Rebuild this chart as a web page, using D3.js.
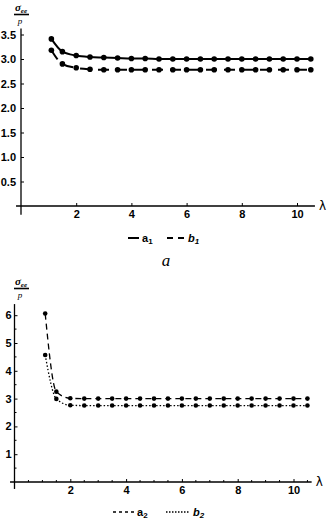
<!DOCTYPE html>
<html>
<head>
<meta charset="utf-8">
<script src="https://cdn.jsdelivr.net/npm/d3@7"></script>
<style>
  body { margin: 0; background: #fff; }
  svg { display: block; }
  .tick text { font-family: "Liberation Sans", Arial, sans-serif; font-size: 11px; font-weight: bold; fill: #000; }
  .tick line { stroke: #000; }
</style>
</head>
<body>
<svg id="chart" width="332" height="523"></svg>
<script>
// Dades llegides de la figura
var lambda = [1.1, 1.5, 2, 2.5, 3, 3.5, 4, 4.5, 5, 5.5, 6, 6.5, 7, 7.5, 8, 8.5, 9, 9.5, 10, 10.5];

var a1 = [3.41, 3.15, 3.07, 3.04, 3.03, 3.02, 3.01, 3.01, 3.00, 3.00, 3.00, 3.00, 3.00, 3.00, 3.00, 3.00, 3.00, 3.00, 3.00, 3.00];
var b1 = [3.18, 2.90, 2.82, 2.79, 2.78, 2.78, 2.78, 2.78, 2.78, 2.78, 2.78, 2.78, 2.78, 2.78, 2.78, 2.78, 2.78, 2.78, 2.78, 2.78];

var a2 = [6.06, 3.25, 3.01, 3.00, 3.00, 3.00, 3.00, 3.00, 3.00, 3.00, 3.00, 3.00, 3.00, 3.00, 3.00, 3.00, 3.00, 3.00, 3.00, 3.00];
var b2 = [4.57, 2.99, 2.76, 2.75, 2.75, 2.75, 2.75, 2.75, 2.75, 2.75, 2.75, 2.75, 2.75, 2.75, 2.75, 2.75, 2.75, 2.75, 2.75, 2.75];

var xTicks = [2, 4, 6, 8, 10];
var yTicksTop = [0.5, 1.0, 1.5, 2.0, 2.5, 3.0, 3.5];
var yTicksBottom = [1, 2, 3, 4, 5, 6];

var svg = d3.select("#chart");

/*
*   Dibuixa un panell amb eixos creuats a l'origen
*/
function panell(opts) {
    var x = d3.scaleLinear().domain([0, 10]).range(opts.xRange);
    var y = d3.scaleLinear().domain(opts.yDomain).range(opts.yRange);
    var g = svg.append("g");

    // eixos
    g.append("line")
        .attr("x1", x(opts.xExt[0])).attr("x2", x(opts.xExt[1]))
        .attr("y1", y(0)).attr("y2", y(0))
        .attr("stroke", "#000").attr("stroke-width", 1.3);
    g.append("line")
        .attr("x1", x(0)).attr("x2", x(0))
        .attr("y1", y(opts.yExt[0])).attr("y2", y(opts.yExt[1]))
        .attr("stroke", "#000").attr("stroke-width", 1.3);

    var xAxis = d3.axisBottom(x).tickValues(xTicks).tickSizeInner(-3).tickSizeOuter(0).tickPadding(4)
        .tickFormat(d3.format("d"));
    g.append("g").attr("transform", "translate(0," + y(0) + ")").call(xAxis)
        .call(function (s) { s.select(".domain").remove(); });

    var yAxis = d3.axisLeft(y).tickValues(opts.yTicks).tickSizeInner(-3).tickSizeOuter(0).tickPadding(opts.yPad)
        .tickFormat(opts.yFormat);
    g.append("g").attr("transform", "translate(" + x(0) + ",0)").call(yAxis)
        .call(function (s) { s.select(".domain").remove(); });

    // marques menors
    if (opts.minor) {
        g.selectAll(".mx").data(d3.range(0.5, 10.6, 0.5).filter(function (d) { return d % 2 != 0; }))
            .enter().append("line")
            .attr("x1", function (d) { return x(d); }).attr("x2", function (d) { return x(d); })
            .attr("y1", y(0)).attr("y2", y(0) - 2).attr("stroke", "#000");
        g.selectAll(".my").data([0.5, 1.5, 2.5, 3.5, 4.5, 5.5])
            .enter().append("line")
            .attr("x1", x(0)).attr("x2", x(0) + 2)
            .attr("y1", function (d) { return y(d); }).attr("y2", function (d) { return y(d); })
            .attr("stroke", "#000");
    }

    // etiqueta lambda
    g.append("text").attr("x", x(opts.xExt[1]) + 4).attr("y", y(0) + 4)
        .attr("font-family", "DejaVu Sans, sans-serif").attr("font-size", 12).text("λ");

    // etiqueta de l'eix Y (fracció)
    var ly = opts.labelY;
    var t = g.append("text").attr("x", opts.labelX).attr("y", ly)
        .attr("font-family", "Liberation Serif, serif").attr("font-style", "italic").attr("font-size", 11)
        .attr("font-weight", "bold").attr("text-anchor", "middle");
    t.append("tspan").text("σ");
    t.append("tspan").attr("font-size", 7).attr("dy", 2).text("ee");
    g.append("line").attr("x1", opts.labelX - 7).attr("x2", opts.labelX + 8)
        .attr("y1", ly + 3.5).attr("y2", ly + 3.5).attr("stroke", "#000").attr("stroke-width", 1.6);
    g.append("text").attr("x", opts.labelX - 1).attr("y", ly + 13)
        .attr("font-family", "Liberation Serif, serif").attr("font-style", "italic").attr("font-size", 9)
        .attr("text-anchor", "middle").text("p");

    // series
    opts.series.forEach(function (s) {
        var pts = lambda.map(function (l, i) { return [l, s.values[i]]; });
        var line = d3.line().x(function (d) { return x(d[0]); }).y(function (d) { return y(d[1]); })
            .curve(d3.curveMonotoneX);
        g.append("path").datum(pts).attr("d", line)
            .attr("fill", "none").attr("stroke", "#000")
            .attr("stroke-width", s.width).attr("stroke-dasharray", s.dash);
        g.selectAll(null).data(pts).enter().append("circle")
            .attr("cx", function (d) { return x(d[0]); }).attr("cy", function (d) { return y(d[1]); })
            .attr("r", s.r).attr("fill", "#000");
    });

    return g;
}

function llegenda(items, y) {
    items.forEach(function (it) {
        svg.append("line").attr("x1", it.x1).attr("x2", it.x2).attr("y1", y).attr("y2", y)
            .attr("stroke", "#000").attr("stroke-width", it.width).attr("stroke-dasharray", it.dash);
        var t = svg.append("text").attr("x", it.x2 + 3).attr("y", y + 4)
            .attr("font-family", "Liberation Sans, Arial, sans-serif").attr("font-size", 11)
            .attr("font-weight", "bold").attr("font-style", it.italic ? "italic" : "normal");
        t.append("tspan").text(it.name);
        t.append("tspan").attr("font-size", 8).attr("dy", 2).text(it.sub);
    });
}

// Panell superior
panell({
    xRange: [21, 297], xExt: [-0.18, 10.65],
    yDomain: [0, 3.5], yRange: [206, 34.5], yExt: [-0.18, 3.62],
    yTicks: yTicksTop, yPad: 5, yFormat: d3.format(".1f"),
    minor: false, labelX: 21, labelY: 11,
    series: [
        { values: a1, width: 2, dash: null, r: 2.8 },
        { values: b1, width: 2, dash: "11,7", r: 2.8 }
    ]
});
llegenda([
    { x1: 128, x2: 139, width: 2, dash: null, name: "a", sub: "1", italic: false },
    { x1: 167, x2: 185, width: 2, dash: "6,5", name: "b", sub: "1", italic: true }
], 238);

svg.append("text").attr("x", 166).attr("y", 266).attr("text-anchor", "middle")
    .attr("font-family", "Liberation Serif, serif").attr("font-style", "italic").attr("font-size", 17).text("a");

// Panell inferior
panell({
    xRange: [14.5, 293.5], xExt: [-0.16, 10.65],
    yDomain: [0, 6], yRange: [482, 315.2], yExt: [-0.25, 6.4],
    yTicks: yTicksBottom, yPad: 3, yFormat: d3.format("d"),
    minor: true, labelX: 21, labelY: 285,
    series: [
        { values: a2, width: 1.3, dash: "6,4", r: 2.3 },
        { values: b2, width: 1.3, dash: "1.5,2", r: 2.3 }
    ]
});
llegenda([
    { x1: 113, x2: 134, width: 1.3, dash: "3,3", name: "a", sub: "2", italic: false },
    { x1: 166, x2: 190, width: 1.3, dash: "1.5,1.5", name: "b", sub: "2", italic: true }
], 512);
</script>
</body>
</html>
